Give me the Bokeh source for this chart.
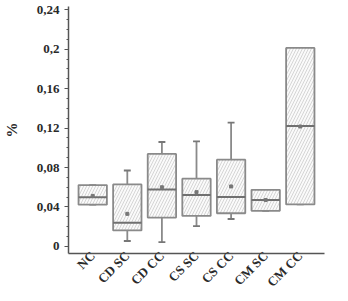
import math
from bokeh.plotting import figure
from bokeh.models import ColumnDataSource, Range1d, FixedTicker
from bokeh.embed import file_html
from bokeh.resources import INLINE

categories = ["NC", "CD SC", "CD CC", "CS SC", "CS CC", "CM SC", "CM CC"]
q1 = [0.0423, 0.0162, 0.0292, 0.0309, 0.0336, 0.0361, 0.0426]
q3 = [0.0622, 0.0629, 0.0938, 0.0687, 0.0880, 0.0574, 0.2013]
median = [0.0498, 0.0240, 0.0577, 0.0522, 0.0502, 0.0471, 0.1220]
mean = [0.0512, 0.0330, 0.0600, 0.0550, 0.0608, 0.0470, 0.1216]
whisk_lo = [0.0423, 0.0055, 0.0044, 0.0206, 0.0278, 0.0361, 0.0426]
whisk_hi = [0.0622, 0.0770, 0.1059, 0.1065, 0.1255, 0.0574, 0.2013]
y_ticks = [0, 0.04, 0.08, 0.12, 0.16, 0.2, 0.24]
y_tick_labels = ["0", "0,04", "0,08", "0,12", "0,16", "0,2", "0,24"]

xs = list(range(1, len(categories) + 1))
src = ColumnDataSource(dict(
    x=xs, q1=q1, q3=q3, med=median, mean=mean, lo=whisk_lo, hi=whisk_hi,
    bw_l=[x - 0.41 for x in xs], bw_r=[x + 0.41 for x in xs],
    cap_l=[x - 0.1 for x in xs], cap_r=[x + 0.1 for x in xs],
))

p = figure(width=348, height=301, output_backend="svg", toolbar_location=None,
           x_range=Range1d(0.3, 7.7), y_range=Range1d(-0.0072, 0.2433),
           min_border_left=61, min_border_right=24, min_border_top=6, min_border_bottom=48)
p.outline_line_color = None
p.xgrid.visible = False
p.ygrid.visible = False
p.background_fill_color = "white"

edge = "#8a8a8a"
# whiskers
p.segment(x0="x", y0="q3", x1="x", y1="hi", source=src, line_color=edge, line_width=1.8)
p.segment(x0="x", y0="lo", x1="x", y1="q1", source=src, line_color=edge, line_width=1.8)
p.segment(x0="cap_l", y0="hi", x1="cap_r", y1="hi", source=src, line_color="#777777", line_width=1.8)
p.segment(x0="cap_l", y0="lo", x1="cap_r", y1="lo", source=src, line_color="#777777", line_width=1.8)
# boxes
p.vbar(x="x", width=0.82, bottom="q1", top="q3", source=src,
       fill_color="#fafafa", line_color=edge, line_width=1.8,
       hatch_pattern="/", hatch_color="#cccccc", hatch_scale=6, hatch_weight=0.8)
# median
p.segment(x0="bw_l", y0="med", x1="bw_r", y1="med", source=src, line_color="#707070", line_width=2)
# mean
p.scatter(x="x", y="mean", source=src, marker="square", size=3, fill_color="#777777", line_color="#777777")

font = "Liberation Serif"
p.xaxis.ticker = FixedTicker(ticks=xs)
p.xaxis.major_label_overrides = {x: c for x, c in zip(xs, categories)}
p.xaxis.major_label_orientation = math.pi / 4
p.xaxis.major_label_standoff = 0
p.xaxis.major_tick_line_color = None
p.xaxis.major_tick_out = 0
p.xaxis.major_tick_in = 0
p.xaxis.minor_tick_line_color = None
p.xaxis.minor_tick_out = 0
p.xaxis.axis_line_color = "#555555"
p.xaxis.axis_line_width = 1.5

p.yaxis.ticker = FixedTicker(ticks=y_ticks, minor_ticks=[i * 0.01 for i in range(0, 25)])
p.yaxis.major_label_overrides = {t: l for t, l in zip(y_ticks, y_tick_labels)}
p.yaxis.axis_line_color = "#555555"
p.yaxis.axis_line_width = 1.5
p.yaxis.major_tick_line_color = "#555555"
p.yaxis.minor_tick_line_color = "#555555"
p.yaxis.major_tick_out = 4
p.yaxis.major_tick_in = 0
p.yaxis.minor_tick_out = 2
p.yaxis.minor_tick_in = 0
p.yaxis.axis_label = "%"
p.yaxis.axis_label_standoff = 14

for ax in (p.xaxis, p.yaxis):
    ax.major_label_text_font = font
    ax.major_label_text_font_style = "bold"
    ax.major_label_text_font_size = "13px"
    ax.major_label_text_color = "#2a2a2a"
    ax.axis_label_text_font = font
    ax.axis_label_text_font_style = "bold"
    ax.axis_label_text_font_size = "15px"
    ax.axis_label_text_color = "#2a2a2a"

open("out.html", "w").write(file_html(p, INLINE))
